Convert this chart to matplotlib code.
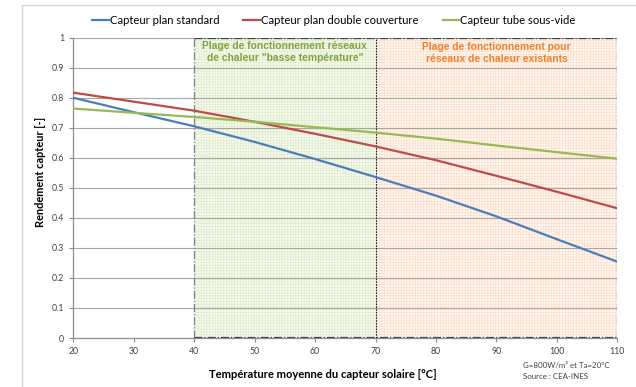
import matplotlib.pyplot as plt
from matplotlib.patches import Rectangle

# mean collector temperature [°C] and efficiency of each collector type
temp = [20, 30, 40, 50, 60, 70, 80, 90, 100, 110]
plan_standard = [0.800, 0.752, 0.705, 0.653, 0.596, 0.536, 0.474, 0.405, 0.329, 0.254]
plan_double = [0.817, 0.787, 0.757, 0.720, 0.680, 0.638, 0.592, 0.540, 0.487, 0.432]
tube_vide = [0.764, 0.750, 0.736, 0.720, 0.702, 0.684, 0.664, 0.641, 0.619, 0.597]

series_names = ["Capteur plan standard", "Capteur plan double couverture", "Capteur tube sous-vide"]
series_colors = ["#4a7ebb", "#be4b48", "#98b954"]

low_range = (40, 70)
high_range = (70, 110)
low_text = 'Plage de fonctionnement réseaux\nde chaleur "basse température"'
high_text = "Plage de fonctionnement pour\nréseaux de chaleur existants"

yticks = [0, 0.1, 0.2, 0.3, 0.4, 0.5, 0.6, 0.7, 0.8, 0.9, 1]
ytick_labels = ["0", "0.1", "0.2", "0.3", "0.4", "0.5", "0.6", "0.7", "0.8", "0.9", "1"]
xticks = [20, 30, 40, 50, 60, 70, 80, 90, 100, 110]

W, H = 636, 387
fig = plt.figure(figsize=(W / 100, H / 100), dpi=100)
fig.patches.append(Rectangle((22 / W, -0.1), 1.2, (H - 5) / H + 0.1, transform=fig.transFigure,
                             fill=False, edgecolor="#d4d4d4", linewidth=1.0))
ax = fig.add_axes([73.3 / W, 1 - 338 / H, (617.3 - 73.3) / W, (338 - 37.7) / H])

plt.rcParams["hatch.linewidth"] = 0.4
ax.axvspan(*low_range, ymin=0, ymax=1, facecolor="#f5f9ee", edgecolor="#dde9c8",
           hatch="++++++", linewidth=0, zorder=0)
ax.axvspan(*high_range, ymin=0, ymax=1, facecolor="#fff6ef", edgecolor="#fbdcc6",
           hatch="++++++", linewidth=0, zorder=0)

for v in yticks[1:]:
    ax.axhline(v, color="#a6a6a6", linewidth=0.8, zorder=1)

# region borders
ax.plot([low_range[0], low_range[0]], [0, 1], color="#7f7f7f", linestyle="-.", linewidth=0.9, zorder=2)
ax.plot([low_range[0], high_range[1]], [1, 1], color="#404040", linestyle="-.", linewidth=0.9, zorder=2)
ax.plot([low_range[0], high_range[1]], [0.002, 0.002], color="#404040", linestyle="-.", linewidth=0.9, zorder=2)
ax.plot([high_range[0], high_range[0]], [0, 1], color="#202020", linestyle=(0, (1.5, 1)), linewidth=0.8, zorder=2)
ax.plot([high_range[1], high_range[1]], [0, 1], color="#404040", linestyle="-.", linewidth=0.9, zorder=2)

for vals, name, c in zip([plan_standard, plan_double, tube_vide], series_names, series_colors):
    ax.plot(temp, vals, color=c, linewidth=1.6, label=name, zorder=3)

ax.text(sum(low_range) / 2, 0.953, low_text, ha="center", va="center", color="#7aa63e",
        fontsize=7.4, fontweight="bold", family="Liberation Sans", linespacing=1.2)
ax.text(sum(high_range) / 2, 0.949, high_text, ha="center", va="center", color="#f0802e",
        fontsize=7.4, fontweight="bold", family="Liberation Sans", linespacing=1.35)

ax.set_xlim(20, 110)
ax.set_ylim(0, 1)
ax.set_xticks(xticks)
ax.set_yticks(yticks)
ax.set_yticklabels(ytick_labels)
ax.tick_params(labelsize=6.3, colors="#404040", length=3, width=0.8, direction="out")
ax.tick_params(axis="both", color="#8c8c8c")
for s in ["top", "right"]:
    ax.spines[s].set_visible(False)
for s in ["left", "bottom"]:
    ax.spines[s].set_color("#8c8c8c")
    ax.spines[s].set_linewidth(0.9)
for lab in ax.get_xticklabels() + ax.get_yticklabels():
    lab.set_family("Lato")

fig.text(323 / W, 1 - 375 / H, "Température moyenne du capteur solaire [°C]", ha="center", va="center",
         fontsize=8.1, fontweight="bold", family="Lato")
fig.text(41 / W, 1 - 171.5 / H, "Rendement capteur [-]", ha="center", va="center", rotation=90,
         fontsize=7.9, fontweight="bold", family="Lato")
fig.text(523 / W, 1 - 366 / H, "G=800W/m² et Ta=20°C", ha="left", va="center", fontsize=5.7,
         family="Lato", color="#404040")
fig.text(523 / W, 1 - 376.5 / H, "Source : CEA-INES", ha="left", va="center", fontsize=5.7,
         family="Lato", color="#404040")

fig.legend(loc="center", bbox_to_anchor=(334 / W, 1 - 20 / H), ncol=3, frameon=False,
           prop={"family": "Lato", "size": 8.1}, handlelength=1.5, handletextpad=0.1,
           columnspacing=2.1)

fig.savefig("out.png", dpi=100)
